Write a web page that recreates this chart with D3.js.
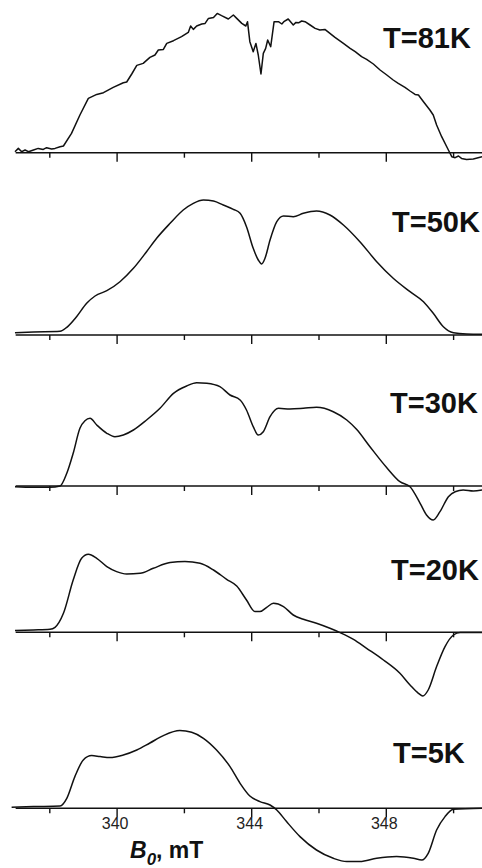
<!DOCTYPE html>
<html>
<head>
<meta charset="utf-8">
<script src="https://cdn.jsdelivr.net/npm/d3@7"></script>
<style>
  html, body { margin: 0; padding: 0; background: #fff; }
  svg { display: block; }
</style>
</head>
<body>
<div id="chart"></div>
<script>
// EPR spectra, field in mT, intensity in a.u. (relative to each baseline)
const temps = ["T=81K", "T=50K", "T=30K", "T=20K", "T=5K"]

const field81 = [336.98,337.08,337.18,337.28,337.38,337.53,337.67,337.82,337.92,338.07,338.17,338.32,338.42,338.66,338.91,339.16,339.41,339.61,339.90,340.20,340.30,340.45,340.60,340.79,340.99,341.14,341.24,341.39,341.49,341.69,341.93,342.13,342.20,342.28,342.38,342.53,342.63,342.73,342.88,342.99,343.12,343.32,343.47,343.57,343.72,343.84,343.89,343.96,344.06,344.14,344.21,344.29,344.36,344.43,344.49,344.58,344.68,344.81,344.91,344.97,345.10,345.25,345.33,345.42,345.50,345.60,345.75,345.90,346.04,346.19,346.34,346.49,346.74,346.94,347.09,347.28,347.43,347.63,347.83,348.03,348.22,348.37,348.57,348.72,348.87,348.97,349.12,349.31,349.41,349.51,349.66,349.86,349.96,350.06,350.16,350.25,350.40,350.60,350.86]
const int81 = [1.0,4.3,1.0,2.7,1.0,2.7,4.3,3.3,5.0,3.7,4.3,6.0,6.7,19.3,37.7,54.3,58.3,60.0,65.3,70.0,70.7,78.7,87.3,89.3,95.3,97.7,102.7,103.3,109.3,112.0,116.0,120.3,126.7,123.3,126.7,128.7,129.3,134.3,135.3,139.3,137.0,133.7,137.7,134.3,129.3,126.7,131.0,111.0,101.0,109.3,97.7,78.7,99.3,104.3,112.7,106.0,131.0,131.0,128.7,131.0,133.7,127.7,130.3,130.0,131.7,131.0,127.7,124.3,122.7,123.3,119.3,115.3,109.3,104.3,101.0,96.0,93.3,88.7,82.7,77.7,72.7,69.3,65.3,61.7,58.3,57.7,51.0,42.7,37.7,27.7,16.0,2.7,-4.0,-5.0,-3.3,-5.7,-6.7,-6.3,-4.0]

const field50 = [336.98,337.53,338.32,338.52,338.81,339.11,339.36,339.71,340.10,340.50,340.89,341.19,341.59,341.98,342.28,342.58,342.88,343.17,343.47,343.67,343.86,344.06,344.21,344.31,344.41,344.56,344.76,344.96,345.25,345.55,345.94,346.34,346.74,347.23,347.73,348.22,348.72,349.12,349.41,349.71,350.01,350.40,350.86]
const int50 = [2.3,3.0,3.7,7.7,18.3,31.7,39.0,44.3,53.3,66.7,83.3,96.7,111.7,125.0,131.7,135.0,134.0,130.0,125.7,121.7,108.3,86.7,75.0,71.0,76.7,95.0,113.3,119.0,118.3,121.7,124.0,120.0,110.0,93.3,73.3,56.7,43.3,33.3,21.7,8.3,2.3,1.0,0.7]

const field30 = [336.98,337.53,338.02,338.32,338.52,338.71,338.91,339.06,339.21,339.41,339.71,339.95,340.20,340.50,340.89,341.29,341.69,342.08,342.38,342.68,343.07,343.37,343.67,343.86,344.06,344.21,344.36,344.56,344.81,345.15,345.55,345.94,346.44,346.84,347.13,347.53,348.03,348.42,348.72,349.02,349.21,349.41,349.61,349.86,350.06,350.30,350.60,350.86]
const int30 = [-0.7,-1.3,-1.3,0,12.7,32.7,57.7,65.3,67.7,61.0,52.7,49.3,51.0,56.0,66.0,77.7,92.7,100.0,103.3,102.7,99.3,91.0,86.0,76.0,59.3,51.0,54.3,69.3,77.7,77.0,77.7,78.7,74.3,66.0,56.7,39.3,18.3,4.3,-0.7,-17.3,-29.0,-34.0,-25.7,-10.7,-5.7,-4.0,-5.0,-4.0]

const field20 = [336.98,337.53,338.02,338.17,338.42,338.71,338.96,339.16,339.41,339.71,340.00,340.30,340.70,341.09,341.59,342.03,342.48,342.88,343.27,343.57,343.86,344.11,344.26,344.46,344.66,344.96,345.25,345.55,345.94,346.34,346.64,347.04,347.43,347.93,348.42,348.72,348.97,349.10,349.26,349.51,349.76,350.01,350.21,350.86]
const int20 = [1.7,2.3,3.0,5.0,19.0,52.3,74.0,78.0,74.0,65.7,60.7,58.3,59.0,64.0,69.7,70.7,69.0,62.3,53.0,46.3,32.3,20.7,20.7,25.0,29.0,25.7,17.3,13.0,9.0,4.0,-0.3,-7.0,-16.0,-27.7,-41.0,-52.7,-61.0,-63.7,-57.7,-34.3,-14.3,-2.7,-0.3,-0.3]

const field5 = [336.88,337.53,338.32,338.52,338.76,339.01,339.26,339.51,339.80,340.20,340.60,340.99,341.39,341.88,342.23,342.58,342.97,343.37,343.67,343.96,344.26,344.56,344.76,345.05,345.45,345.94,346.44,346.84,347.23,347.73,348.32,348.82,349.07,349.26,349.51,349.76,350.01,350.86]
const int5 = [1.0,1.7,2.3,10.0,31.7,48.3,52.7,51.7,50.7,53.3,58.3,65.3,72.7,77.7,76.0,70.0,58.3,41.7,25.0,12.3,6.7,3.3,-1.7,-13.3,-28.3,-41.7,-50.0,-53.3,-53.3,-50.0,-48.3,-50.0,-51.7,-45.0,-21.7,-8.3,-1.0,0]

const minorTicks = [338, 342, 346, 350]
const majorTicks = [340, 344, 348]

const width = 482
const height = 868

// layout of the stacked panels
const baselines = [152.7, 335, 486, 632.3, 808.3]
const labelPos = [[383, -105], [392, -103.3], [390, -73.3], [391, -52.3], [393, -45.6]]

const fields = [field81, field50, field30, field20, field5]
const ints = [int81, int50, int30, int20, int5]
const curves = [d3.curveLinear, d3.curveMonotoneX, d3.curveMonotoneX, d3.curveMonotoneX, d3.curveMonotoneX]

const x = d3.scaleLinear().domain([337, 351]).range([15.65, 486.75])
const y = d3.scaleLinear().domain([0, 100]).range([0, -100])

const svg = d3.select("#chart").append("svg")
    .attr("width", width)
    .attr("height", height)
    .style("background", "#fff")

temps.forEach((t, i) => {
  const g = svg.append("g").attr("transform", `translate(0,${baselines[i]})`)

  // axis line
  g.append("line")
      .attr("x1", x(337)).attr("x2", width)
      .attr("y1", 0).attr("y2", 0)
      .attr("stroke", "#111").attr("stroke-width", 1.4)

  const minor = d3.axisBottom(x).tickValues(minorTicks).tickSize(5).tickFormat("")
  const major = d3.axisBottom(x).tickValues(majorTicks).tickSize(9)
      .tickFormat(i === temps.length - 1 ? d3.format("d") : "")

  ;[minor, major].forEach(ax => {
    const a = g.append("g").call(ax)
    a.select(".domain").remove()
    a.selectAll(".tick line").attr("stroke", "#111").attr("stroke-width", 1.4)
    a.selectAll(".tick text")
        .attr("font-family", "Arial, 'Liberation Sans', sans-serif")
        .attr("font-size", 16)
        .attr("fill", "#222")
        .attr("dy", "0.55em")
        .attr("dx", -2)
  })

  const line = d3.line()
      .x(d => x(d[0]))
      .y(d => y(d[1]))
      .curve(curves[i])

  g.append("path")
      .datum(d3.zip(fields[i], ints[i]))
      .attr("d", line)
      .attr("fill", "none")
      .attr("stroke", "#111")
      .attr("stroke-width", 1.5)
      .attr("stroke-linejoin", "round")

  g.append("text")
      .attr("x", labelPos[i][0])
      .attr("y", labelPos[i][1])
      .attr("font-family", "Arial, 'Liberation Sans', sans-serif")
      .attr("font-weight", "bold")
      .attr("font-size", 29)
      .attr("fill", "#111")
      .text(t)
})

// axis title
const title = svg.append("text")
    .attr("x", 130)
    .attr("y", 858)
    .attr("font-family", "Arial, 'Liberation Sans', sans-serif")
    .attr("font-size", 23)
    .attr("font-weight", "bold")
    .attr("fill", "#111")
title.append("tspan").attr("font-style", "italic").text("B")
title.append("tspan").attr("font-style", "italic").attr("font-size", 17).attr("dy", 7).text("0")
title.append("tspan").attr("dy", -7).text(", mT")
</script>
</body>
</html>
